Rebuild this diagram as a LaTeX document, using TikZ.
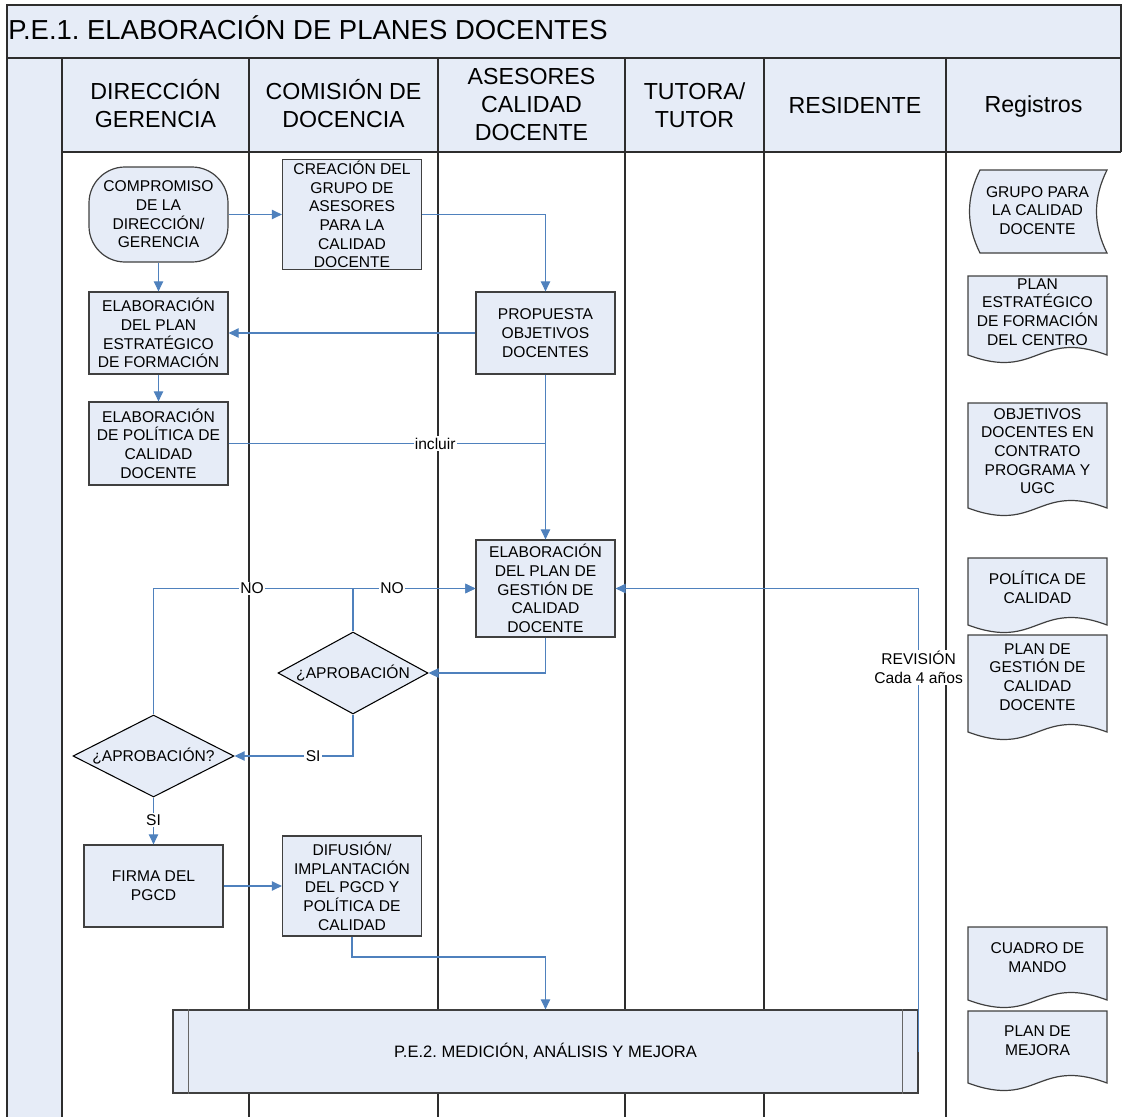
\documentclass[tikz,border=0pt]{standalone}
\usepackage{fontspec}
\setmainfont{Liberation Sans}
\usetikzlibrary{arrows.meta,shapes.geometric,calc}
\definecolor{lanefill}{RGB}{230,236,247}
\definecolor{flowblue}{RGB}{79,129,189}
\definecolor{edgegray}{RGB}{64,64,64}
\definecolor{framegray}{RGB}{45,45,45}
\frenchspacing

% Registro documento: #1 top, #2 bottom of wave ends, #3 name, #4 text centre, #5 text
\newcommand{\regdoc}[5]{%
  \draw[docline] (968,#2) -- (968,#1) -- (1107,#1) -- (1107,#2)
    .. controls (1037.5,{#2-26}) and (1037.5,{#2+26}) .. (968,#2) -- cycle;
  \node[boxtext] (#3) at (1037.5,#4) {#5};
}

\begin{document}
\begin{tikzpicture}[x=0.75pt,y=-0.75pt,
  boxtext/.style={font=\fontsize{11.7}{14}\selectfont, align=center, inner sep=0pt},
  headtext/.style={font=\fontsize{17.4}{21}\selectfont, align=center, inner sep=0pt},
  frame/.style={draw=framegray, line width=1.3pt},
  proc/.style={draw=edgegray, line width=0.9pt, fill=lanefill, boxtext, minimum width=104.25pt},
  term/.style={proc, rounded corners=27pt, minimum height=71.25pt},
  decision/.style={diamond, draw=black, line width=0.8pt, fill=lanefill, inner sep=0pt},
  docline/.style={draw=edgegray, line width=0.9pt, fill=lanefill},
  subline/.style={draw=edgegray!80, line width=1.1pt},
  flow/.style={draw=flowblue, line width=0.8pt},
  arr/.style={flow, -{Triangle[length=7.5pt,width=7pt]}},
  lbl/.style={fill=white, inner sep=1pt, font=\fontsize{11.7}{14}\selectfont, text=black}
]
\useasboundingbox (0,0) rectangle (1122,1117);

% swimlane frame
\fill[lanefill] (7,5) rectangle (1121,152);
\fill[lanefill] (7,152) rectangle (62,1117);
\draw[frame] (7,1117) -- (7,5) -- (1121,5) -- (1121,152);
\draw[frame] (7,58) -- (1121,58);
\draw[frame] (62,152) -- (1121,152);
\foreach \x in {62,249,438,625,764,946} \draw[frame] (\x,58) -- (\x,1117);

% title and lane headers
\node[anchor=base west, inner sep=0pt, font=\fontsize{20.6}{24}\selectfont] (title) at (8,39) {P.E.1. ELABORACIÓN DE PLANES DOCENTES};
\node[headtext] (h1) at (155.5,103.5) {DIRECCIÓN\\GERENCIA};
\node[headtext] (h2) at (343.5,103.5) {COMISIÓN DE\\DOCENCIA};
\node[headtext] (h3) at (531.5,105) {ASESORES\\CALIDAD\\DOCENTE};
\node[headtext] (h4) at (694.5,105) {TUTORA/\\TUTOR};
\node[headtext] (h5) at (855,105.5) {RESIDENTE};
\node[headtext] (h6) at (1033.5,107) {Registros};

% process steps
\node[term] (comp) at (158.5,214.5) {COMPROMISO\\DE LA\\DIRECCIÓN/\\GERENCIA};
\node[proc, minimum height=82.5pt] (crea) at (352,214.5) {CREACIÓN DEL\\GRUPO DE\\ASESORES\\PARA LA\\CALIDAD\\DOCENTE};
\node[proc, minimum height=61.5pt] (plan) at (158.5,333) {ELABORACIÓN\\DEL PLAN\\ESTRATÉGICO\\DE FORMACIÓN};
\node[proc, minimum height=62.25pt] (poli) at (158.5,443.5) {ELABORACIÓN\\DE POLÍTICA DE\\CALIDAD\\DOCENTE};
\node[proc, minimum height=61.5pt] (prop) at (545.5,333) {PROPUESTA\\OBJETIVOS\\DOCENTES};
\node[proc, minimum height=72.75pt] (pgcd) at (545.5,588.5) {ELABORACIÓN\\DEL PLAN DE\\GESTIÓN DE\\CALIDAD\\DOCENTE};
\node[decision, minimum width=112.5pt, minimum height=61.5pt,
      label={[boxtext]center:¿APROBACIÓN}] (d1) at (353,673) {};
\node[decision, minimum width=120.75pt, minimum height=61.5pt,
      label={[boxtext]center:¿APROBACIÓN?}] (d2) at (153.5,756) {};
\node[proc, minimum height=61.5pt] (firma) at (153.5,886) {FIRMA DEL\\PGCD};
\node[proc, minimum height=75pt] (dif) at (352,886) {DIFUSIÓN/\\IMPLANTACIÓN\\DEL PGCD Y\\POLÍTICA DE\\CALIDAD};
\node[proc, minimum width=558.75pt, minimum height=62.25pt, font=\fontsize{12.4}{14}\selectfont] (pe2) at (545.5,1051.5) {P.E.2. MEDICIÓN, ANÁLISIS Y MEJORA};
\draw[subline] ([xshift=12pt]pe2.north west) -- ([xshift=12pt]pe2.south west);
\draw[subline] ([xshift=-12pt]pe2.north east) -- ([xshift=-12pt]pe2.south east);

% registros
\draw[docline] (980,170) -- (1107,170) .. controls (1093,198) and (1093,225) .. (1107,253)
  -- (980,253) .. controls (966,225) and (966,198) .. (980,170) -- cycle;
\node[boxtext] (r1) at (1037.5,210.5) {GRUPO PARA\\LA CALIDAD\\DOCENTE};
\regdoc{276}{355}{r2}{312}{PLAN\\ESTRATÉGICO\\DE FORMACIÓN\\DEL CENTRO}
\regdoc{403}{508}{r3}{451}{OBJETIVOS\\DOCENTES EN\\CONTRATO\\PROGRAMA Y\\UGC}
\regdoc{558}{625}{r4}{587.5}{POLÍTICA DE\\CALIDAD}
\regdoc{635}{732}{r5}{677}{PLAN DE\\GESTIÓN DE\\CALIDAD\\DOCENTE}
\regdoc{927}{1000}{r6}{957.5}{CUADRO DE\\MANDO}
\regdoc{1011}{1083}{r7}{1040.5}{PLAN DE\\MEJORA}

% connectors
\draw[arr] (comp) -- (crea);
\draw[arr] (comp) -- (plan);
\draw[arr] (plan) -- (poli);
\draw[arr] (crea.east) -| (prop.north);
\draw[arr] (prop) -- (plan);
\draw[flow] (poli.east) -- (poli.east -| prop.south) node[lbl, pos=0.652] {incluir};
\draw[arr] (prop) -- (pgcd);
\draw[arr] (pgcd.south) |- (d1.east);
\draw[arr] (d2.north) |- (pgcd.west) node[lbl, pos=0.653] {NO};
\draw[arr] (d1.north) |- (pgcd.west) node[lbl, pos=0.66] {NO};
\draw[arr] (d1.south) |- (d2.east) node[lbl, pos=0.668] {SI};
\draw[arr] (d2) -- (firma) node[lbl, pos=0.48] {SI};
\draw[arr] (firma) -- (dif);
\coordinate (difturn) at (545.5,957);
\draw[arr] (dif.south) |- (difturn) -- (pe2.north);
\draw[arr] (pe2.east) |- (pgcd.east) node[lbl, pos=0.415, align=center] {REVISIÓN\\Cada 4 años};
\end{tikzpicture}
\end{document}
